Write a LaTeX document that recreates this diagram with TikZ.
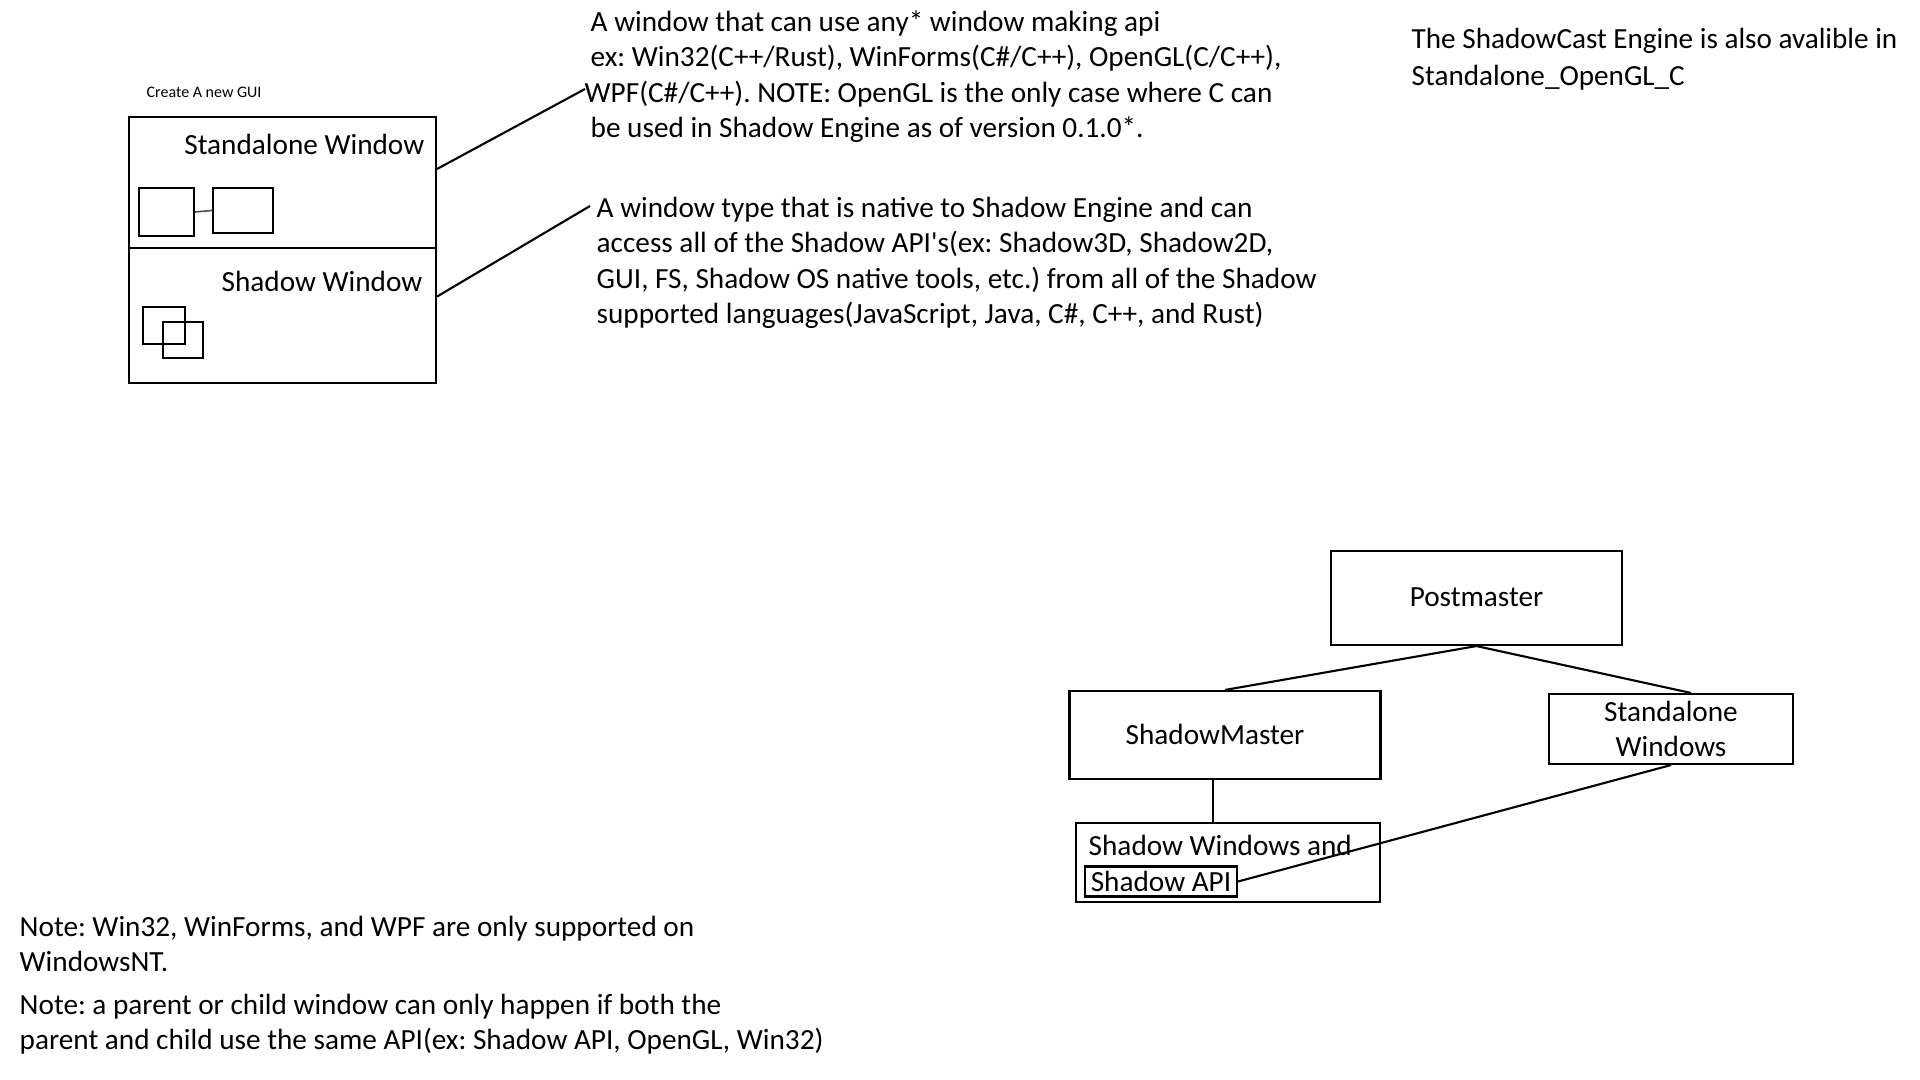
\documentclass[tikz,border=0pt]{standalone}
\usepackage{fontspec}
\setmainfont{Carlito}
\frenchspacing
\newcommand\mainsz{\fontsize{8.32pt}{10.05pt}\selectfont}
\newcommand\smallsz{\fontsize{4.55pt}{5.5pt}\selectfont}
\begin{document}
\frenchspacing
\begin{tikzpicture}[
  box/.style={draw, line width=0.6pt, inner sep=0pt},
  conn/.style={line width=0.6pt},
  txt/.style={inner sep=0pt, font=\mainsz},
]
\useasboundingbox[fill=white] (0,0) rectangle (19.2,-10.8);

% ---- left: Create A new GUI ----
\node[inner sep=0pt, font=\smallsz, anchor=base west] (gui) at (1.46,-0.975) {Create A new GUI};
\node[box, minimum width=3.07cm, minimum height=1.31cm] (sw) at (2.825,-1.825) {};
\node[box, minimum width=3.07cm, minimum height=1.35cm] (shw) at (2.825,-3.155) {};
\node[txt, anchor=base east] (swt) at (4.25,-1.55) {Standalone Window};
\node[txt, anchor=base east] (shwt) at (4.23,-2.915) {Shadow Window};
\node[box, minimum width=0.55cm, minimum height=0.48cm] (ra) at (1.665,-2.12) {};
\node[box, minimum width=0.60cm, minimum height=0.45cm] (rb) at (2.43,-2.105) {};
\draw[line width=0.45pt, black!70] (ra.east) -- (rb.west);
\node[box, minimum width=0.42cm, minimum height=0.37cm] (rc) at (1.64,-3.255) {};
\node[box, minimum width=0.40cm, minimum height=0.36cm] (rd) at (1.83,-3.40) {};

% ---- middle texts ----
\node[txt, anchor=base west] (tx1) at (5.90,-0.315) {\parbox[t]{9cm}{\mainsz\raggedright
A window that can use any* window making api\\
ex: Win32(C++/Rust), WinForms(C\#/C++), OpenGL(C/C++),\\
\hspace*{-0.06cm}WPF(C\#/C++). NOTE: OpenGL is the only case where C can\\
be used in Shadow Engine as of version 0.1.0*.}};
\node[txt, anchor=base west] (tx2) at (5.96,-2.175) {\parbox[t]{9cm}{\mainsz\raggedright
A window type that is native to Shadow Engine and can\\
access all of the Shadow API\textquotesingle s(ex: Shadow3D, Shadow2D,\\
GUI, FS, Shadow OS native tools, etc.) from all of the Shadow\\
supported languages(JavaScript, Java, C\#, C++, and Rust)}};
\coordinate (e1) at (5.85,-0.89);
\coordinate (e2) at (5.90,-2.06);
\draw[conn] (sw.5) -- (e1);
\draw[conn] (shw.7) -- (e2);

% ---- top right ----
\node[txt, anchor=base west] (tr) at (14.11,-0.49) {\parbox[t]{6cm}{\fontsize{8.3pt}{10.45pt}\selectfont\raggedright
The ShadowCast Engine is also avalible in\\
Standalone\_OpenGL\_C}};

% ---- bottom notes ----
\node[txt, anchor=base west] (n1) at (0.19,-9.36) {\parbox[t]{9cm}{\fontsize{8.32pt}{9.96pt}\selectfont\raggedright
Note: Win32, WinForms, and WPF are only supported on\\
WindowsNT.}};
\node[txt, anchor=base west] (n2) at (0.19,-10.14) {\parbox[t]{9cm}{\fontsize{8.32pt}{9.96pt}\selectfont\raggedright
Note: a parent or child window can only happen if both the\\
parent and child use the same API(ex: Shadow API, OpenGL, Win32)}};

% ---- bottom right diagram ----
\node[box, font=\mainsz, minimum width=2.91cm, minimum height=0.94cm] (pm) at (14.765,-5.98) {\raisebox{0.025cm}{Postmaster}};
\node[box, font=\mainsz, minimum width=3.11cm, minimum height=0.88cm] (sm) at (12.25,-7.35) {\raisebox{0.02cm}{ShadowMaster}\hspace*{0.2cm}};
\node[box, font=\fontsize{8.32pt}{10.1pt}\selectfont, align=center, minimum width=2.44cm, minimum height=0.70cm] (saw) at (16.71,-7.29) {\raisebox{-0.01cm}{Standalone}\\\raisebox{-0.01cm}{Windows}};
\node[box, minimum width=3.04cm, minimum height=0.79cm] (swa) at (12.28,-8.625) {};
\node[txt, anchor=base west] (swat) at (10.88,-8.55) {Shadow Windows and};
\node[box, font=\mainsz, minimum width=1.52cm, minimum height=0.30cm] (api) at (11.61,-8.815) {Shadow API};

\draw[conn] (pm.south) -- (sm.north);
\draw[conn] (pm.south) -- (saw.61.5);
\draw[line width=0.4pt] (sm.-105) -- (sm.-105 |- swa.north);
\draw[conn] (saw.south) -- (api.east);
\end{tikzpicture}
\end{document}
